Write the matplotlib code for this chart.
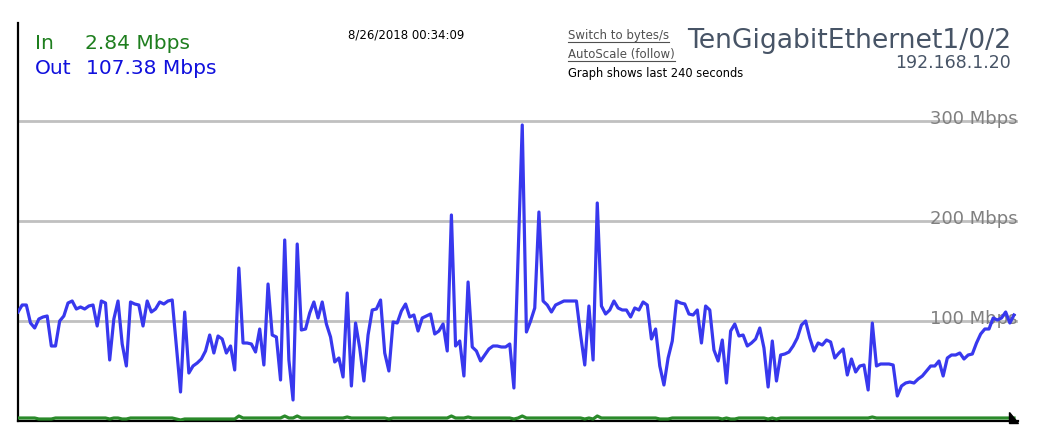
import numpy as np
import matplotlib
matplotlib.use("Agg")
import matplotlib.pyplot as plt
from matplotlib.patches import Polygon
from matplotlib.lines import Line2D

# Out traffic (Mbps), one sample per second, last 240 seconds
out_mbps = [
    109, 116, 116, 98, 93, 102, 104, 105, 75, 75, 100, 105, 118, 120, 112, 114, 112, 115, 116, 95,
    120, 118, 61, 102, 120, 77, 55, 119, 117, 116, 95, 120, 109, 112, 119, 117, 120, 121, 75, 29,
    109, 48, 55, 58, 62, 70, 86, 68, 85, 82, 68, 75, 51, 153, 78, 78, 77, 69, 92, 56,
    137, 86, 84, 41, 181, 61, 21, 177, 91, 92, 108, 119, 103, 119, 97, 84, 59, 63, 44, 128,
    35, 98, 73, 40, 86, 111, 112, 121, 68, 50, 99, 98, 110, 117, 104, 106, 90, 103, 105, 107,
    87, 90, 97, 70, 206, 75, 80, 45, 139, 74, 70, 60, 66, 72, 75, 75, 74, 74, 77, 33,
    165, 296, 89, 100, 113, 209, 120, 116, 109, 116, 118, 120, 120, 120, 120, 86, 56, 115, 61, 218,
    115, 107, 111, 120, 113, 111, 111, 104, 113, 111, 119, 116, 82, 92, 55, 36, 63, 80, 120, 118,
    117, 107, 106, 111, 78, 115, 111, 71, 60, 81, 38, 90, 97, 85, 86, 75, 78, 82, 93, 73,
    34, 80, 40, 66, 67, 69, 75, 83, 96, 100, 83, 70, 78, 76, 81, 79, 63, 68, 72, 46,
    62, 49, 55, 56, 31, 98, 55, 57, 57, 57, 56, 25, 35, 38, 39, 38, 42, 45, 50, 55,
    55, 60, 45, 63, 66, 66, 68, 62, 66, 67, 78, 87, 92, 92, 103, 101, 103, 109, 98, 106,
]

# In traffic (Mbps)
in_mbps = [
    3, 3, 3, 3, 3, 2, 2, 2, 2, 3, 3, 3, 3, 3, 3, 3, 3, 3, 3, 3,
    3, 3, 2, 3, 3, 2, 2, 3, 3, 3, 3, 3, 3, 3, 3, 3, 3, 3, 2, 1,
    2, 2, 2, 2, 2, 2, 2, 2, 2, 2, 2, 2, 2, 5, 3, 3, 3, 3, 3, 3,
    3, 3, 3, 3, 5, 3, 3, 5, 3, 3, 3, 3, 3, 3, 3, 3, 3, 3, 3, 4,
    3, 3, 3, 3, 3, 3, 3, 3, 3, 2, 3, 3, 3, 3, 3, 3, 3, 3, 3, 3,
    3, 3, 3, 3, 5, 3, 3, 3, 4, 3, 3, 3, 3, 3, 3, 3, 3, 3, 3, 2,
    3, 5, 3, 3, 3, 3, 3, 3, 3, 3, 3, 3, 3, 3, 3, 3, 2, 3, 2, 5,
    3, 3, 3, 3, 3, 3, 3, 3, 3, 3, 3, 3, 3, 3, 2, 2, 2, 3, 3, 3,
    3, 3, 3, 3, 3, 3, 3, 3, 3, 2, 3, 2, 2, 3, 3, 3, 3, 3, 3, 3,
    2, 3, 2, 3, 3, 3, 3, 3, 3, 3, 3, 3, 3, 3, 3, 3, 3, 3, 3, 3,
    3, 3, 3, 3, 3, 4, 3, 3, 3, 3, 3, 3, 3, 3, 3, 3, 3, 3, 3, 3,
    3, 3, 3, 3, 3, 3, 3, 3, 3, 3, 3, 3, 3, 3, 3, 3, 3, 3, 3, 3,
]

grid_levels = [100, 200, 300]
grid_labels = ["100 Mbps", "200 Mbps", "300 Mbps"]

W, H = 1037, 443


def px(x, y):
    # pixel position (from top-left) -> figure fraction
    return x / W, 1 - y / H


fig = plt.figure(figsize=(W / 100, H / 100), dpi=100)
ax = fig.add_axes([18 / W, 22 / H, 1000 / W, 398 / H])

t = np.arange(len(out_mbps))
ax.set_xlim(0, (len(out_mbps) - 1) * 1000 / 996)
ax.set_ylim(0, 398)

for lvl, lab in zip(grid_levels, grid_labels):
    ax.axhline(lvl, color="#c0c0c0", lw=2.0, zorder=1)
    ax.text(1.0, lvl - 3, lab, transform=ax.get_yaxis_transform(),
            ha="right", va="baseline", fontsize=13, color="#808080", zorder=2)

ax.plot(t, out_mbps, color="#3838ee", lw=2.3, zorder=3)
ax.plot(t, in_mbps, color="#2a8a2a", lw=2.3, zorder=4)

for s in ["top", "right"]:
    ax.spines[s].set_visible(False)
ax.spines["left"].set_linewidth(1.6)
ax.spines["bottom"].set_linewidth(1.6)
ax.set_xticks([])
ax.set_yticks([])

# arrow head at the end of the time axis
fig.patches.append(Polygon([px(1009, 412), px(1009, 423), px(1018, 423)],
                           closed=True, transform=fig.transFigure,
                           facecolor="black", edgecolor="black"))

green = "#1e7e1e"
blue = "#1010dd"
fig.text(*px(35, 49), "In", fontsize=14.5, color=green, va="baseline")
fig.text(*px(85, 49), "2.84 Mbps", fontsize=14.5, color=green, va="baseline")
fig.text(*px(35, 74), "Out", fontsize=14.5, color=blue, va="baseline")
fig.text(*px(86, 74), "107.38 Mbps", fontsize=14.5, color=blue, va="baseline")

fig.text(*px(348, 38), "8/26/2018 00:34:09", fontsize=8.5, color="black", va="baseline")

link1 = fig.text(*px(568, 39), "Switch to bytes/s", fontsize=8.5, color="#505050",
                 va="baseline")
link2 = fig.text(*px(568, 58), "AutoScale (follow)", fontsize=8.5, color="#505050",
                 va="baseline")
fig.text(*px(568, 77), "Graph shows last 240 seconds", fontsize=8.3, color="black",
         va="baseline")

fig.text(*px(1011, 48), "TenGigabitEthernet1/0/2", fontsize=19.2, color="#475466",
         ha="right", va="baseline")
fig.text(*px(1011, 68), "192.168.1.20", fontsize=12.5, color="#475466",
         ha="right", va="baseline")

# underline the two links
fig.canvas.draw()
for txt, uy in [(link1, 42), (link2, 61)]:
    bb = txt.get_window_extent()
    fig.add_artist(Line2D([bb.x0 / W, bb.x1 / W], [1 - uy / H, 1 - uy / H],
                          transform=fig.transFigure, color="#505050", lw=0.8))

fig.savefig("out.png", dpi=100)
